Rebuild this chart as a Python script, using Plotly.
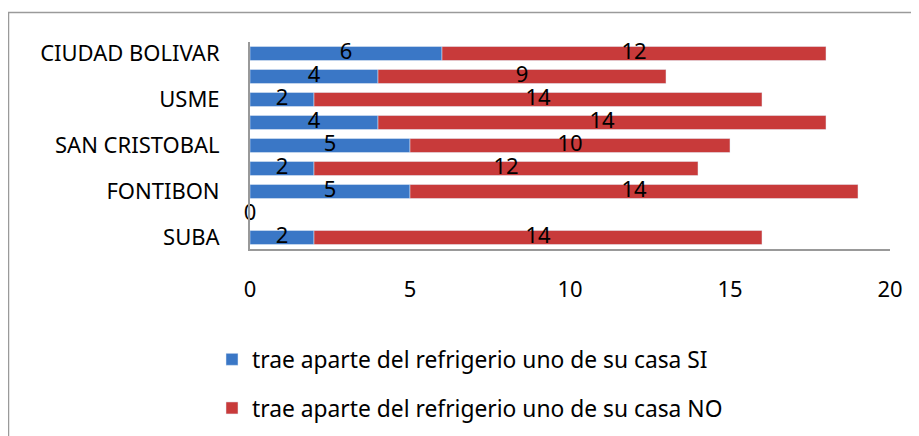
import plotly.graph_objects as go

categories = ["SUBA", "", "FONTIBON", "", "SAN CRISTOBAL", "", "USME", "", "CIUDAD BOLIVAR"]
si_values = [2, 0, 5, 2, 5, 4, 2, 4, 6]
no_values = [14, None, 14, 12, 10, 14, 14, 9, 12]
series_names = ["trae aparte del refrigerio uno de su casa SI",
                "trae aparte del refrigerio uno de su casa NO"]
x_ticks = [0, 5, 10, 15, 20]

OFF = 8  # page body margin
W, H = 919 - OFF, 436 - OFF
L = 250 - OFF
T = 42 - OFF
R = W - (890 - OFF)
B = H - (249 - OFF)
FONT = "Noto Sans"
FS = 22
BLUE = "#3A77C6"
RED = "#C83A3A"

idx = list(range(len(categories)))

fig = go.Figure()
fig.add_trace(go.Bar(y=idx, x=si_values, orientation="h", name=series_names[0],
                     marker=dict(color=BLUE), legendgroup="a"))
fig.add_trace(go.Bar(y=idx, x=[v if v is not None else 0 for v in no_values],
                     base=si_values, orientation="h", name=series_names[1],
                     marker=dict(color=RED), legendgroup="b"))

# data labels (centered in each segment)
si_x = [v / 2 for v in si_values]
fig.add_trace(go.Scatter(y=idx, x=si_x, mode="text", text=[str(v) for v in si_values],
                         textfont=dict(family=FONT, size=FS, color="black"),
                         textposition="middle center",
                         showlegend=False, cliponaxis=False, hoverinfo="skip"))
no_y = [i for i, v in zip(idx, no_values) if v is not None]
no_x = [s + v / 2 for s, v in zip(si_values, no_values) if v is not None]
no_t = [str(v) for v in no_values if v is not None]
fig.add_trace(go.Scatter(y=no_y, x=no_x, mode="text", text=no_t,
                         textfont=dict(family=FONT, size=FS, color="black"),
                         textposition="middle center",
                         showlegend=False, cliponaxis=False, hoverinfo="skip"))

pw = W - L - R
ph = H - T - B
def px_x(page_px):
    return (page_px - OFF - L) / pw
def px_y(page_py):
    return (H - B - (page_py - OFF)) / ph

fig.update_layout(
    width=W, height=H,
    margin=dict(l=L, r=R, t=T, b=B, autoexpand=False),
    barmode="overlay",
    bargap=0.39,
    plot_bgcolor="white", paper_bgcolor="white",
    font=dict(family=FONT, size=FS, color="black"),
    showlegend=True,
    legend=dict(orientation="v", x=px_x(212), y=px_y(338),
                xanchor="left", yanchor="top", tracegroupgap=16,
                font=dict(family=FONT, size=22.8, color="black"),
                bgcolor="rgba(0,0,0,0)"),
    shapes=[dict(type="rect", xref="paper", yref="paper",
                 x0=px_x(8.5), x1=px_x(940),
                 y0=px_y(460), y1=px_y(12.5),
                 line=dict(color="#9A9A9A", width=1.5), fillcolor="rgba(0,0,0,0)",
                 layer="below")],
)
fig.update_xaxes(range=[0, 20], tickvals=x_ticks, showgrid=False, zeroline=False,
                 showline=True, linecolor="#999999", linewidth=2,
                 ticks="", ticklabelstandoff=20,
                 tickfont=dict(family=FONT, size=FS, color="black"))
fig.update_yaxes(range=[-0.5, len(categories) - 0.5], tickvals=idx, ticktext=categories,
                 showgrid=False, zeroline=False, showline=True, linecolor="#999999",
                 linewidth=2, ticks="", ticklabelstandoff=24,
                 tickfont=dict(family=FONT, size=FS, color="black"))

fig.write_html("out.html")
